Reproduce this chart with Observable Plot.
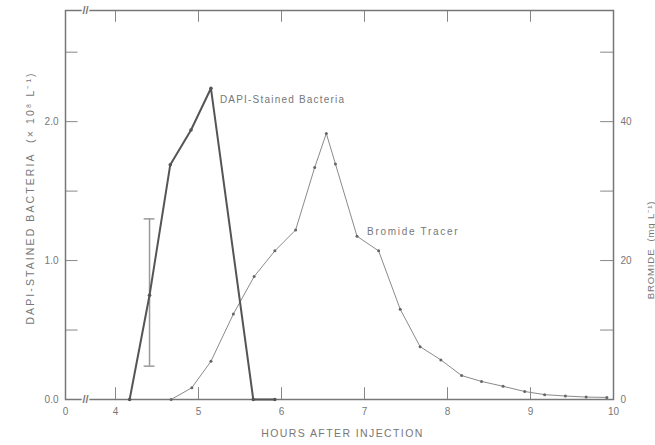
<!DOCTYPE html>
<html>
<head>
<meta charset="utf-8">
<script src="https://cdn.jsdelivr.net/npm/d3@7"></script>
<script src="https://cdn.jsdelivr.net/npm/@observablehq/plot@0.6"></script>
<style>
  html, body { margin: 0; padding: 0; background: #fff; }
  svg { display: block; }
</style>
</head>
<body>
<div id="chart"></div>
<script>
// ---- data ----
const bacteriaHours = [4.17, 4.41, 4.66, 4.91, 5.15, 5.66, 5.92];
const bacteriaConc  = [0, 0.75, 1.69, 1.94, 2.24, 0, 0];          // x 10^8 per L

const bromideHours = [4.67, 4.92, 5.15, 5.42, 5.67, 5.92, 6.17, 6.40, 6.54, 6.65, 6.91, 7.17,
                      7.43, 7.67, 7.92, 8.17, 8.41, 8.67, 8.93, 9.17, 9.42, 9.67, 9.92];
const bromideConc  = [0, 1.7, 5.5, 12.3, 17.7, 21.4, 24.4, 33.4, 38.3, 33.9, 23.5, 21.4,
                      13.0, 7.6, 5.7, 3.45, 2.6, 1.9, 1.15, 0.7, 0.5, 0.35, 0.3];   // mg per L

const errorHour = 4.41, errorLow = 0.24, errorHigh = 1.30;

const xTickLabels = [0, 4, 5, 6, 7, 8, 9, 10];
const xTickMarks  = [4, 5, 6, 7, 8, 9];
const yTickLabels = [0, 1, 2];
const yTickMarks  = [0.5, 1, 1.5, 2, 2.5];
const bromidePerUnit = 20;      // right axis: 1.0 on left = 20 mg/L
const yMax = 2.8;
const axisBreakAt = 1.6;

const xTitle = "HOURS AFTER INJECTION";
const yLeftTitle = "DAPI-STAINED BACTERIA  (× 10⁸ L⁻¹)";
const yRightTitle = "BROMIDE  (mg L⁻¹)";
const bacteriaLabel = "DAPI-Stained Bacteria";
const bromideLabel = "Bromide Tracer";

// ---- build tables ----
const bacteria = bacteriaHours.map((h, i) => ({h, c: bacteriaConc[i]}));
const bromide  = bromideHours.map((h, i) => ({h, c: bromideConc[i]}));
const peak = bacteria[4];
const bromLabelPt = bromide[10];

const ink = "#777";
const tickLenY = 0.085, tickLenL = 1.0, tickLenR = 0.155, capHalf = 0.065;

const chart = Plot.plot({
  width: 655,
  height: 445,
  marginTop: 10,
  marginBottom: 46,
  marginLeft: 65,
  marginRight: 42,
  style: {fontFamily: "Liberation Sans, Arial, sans-serif", fontSize: "10px", color: ink, background: "#fff"},
  x: {type: "linear", domain: [0, 4, 10], range: [65, 115, 613]},
  y: {domain: [0, yMax]},
  marks: [
    // inward ticks
    Plot.ruleX(xTickMarks, {x: d => d, y1: 0, y2: tickLenY, stroke: "#888", strokeWidth: 1}),
    Plot.ruleX(xTickMarks, {x: d => d, y1: yMax - tickLenY, y2: yMax, stroke: "#888", strokeWidth: 1}),
    Plot.ruleY(yTickMarks, {y: d => d, x1: 0, x2: tickLenL, stroke: "#888", strokeWidth: 1}),
    Plot.ruleY(yTickMarks, {y: d => d, x1: 10 - tickLenR, x2: 10, stroke: "#888", strokeWidth: 1}),
    Plot.frame({stroke: "#777", strokeWidth: 1.5}),
    // axis break marks
    Plot.text([0, yMax], {x: () => axisBreakAt, y: d => d, text: () => "//", fontSize: 11, fill: "#777",
      stroke: "#fff", strokeWidth: 3, paintOrder: "stroke", fontWeight: "bold"}),
    // tick labels
    Plot.axisX({ticks: xTickLabels, tickSize: 0, tickPadding: 8, label: null, tickFormat: d => String(d)}),
    Plot.axisY({anchor: "left", ticks: yTickLabels, tickSize: 0, tickPadding: 7, label: null, tickFormat: d => d.toFixed(1)}),
    Plot.axisY({anchor: "right", ticks: yTickLabels, tickSize: 0, tickPadding: 7, label: null, tickFormat: d => String(d * bromidePerUnit)}),
    // axis titles
    Plot.text([xTitle], {frameAnchor: "bottom", textAnchor: "middle", dx: 3, dy: 37, text: d => d, fontSize: 10.5}),
    Plot.text([yLeftTitle], {frameAnchor: "left", textAnchor: "middle", dx: -35, dy: -7, rotate: -90, text: d => d, fontSize: 10.5}),
    Plot.text([yRightTitle], {frameAnchor: "right", textAnchor: "middle", dx: 37, dy: 45, rotate: -90, text: d => d, fontSize: 9.5}),
    // error bar
    Plot.ruleX([errorHour], {x: d => d, y1: () => errorLow, y2: () => errorHigh, stroke: "#999", strokeWidth: 1.5}),
    Plot.ruleY([errorLow, errorHigh], {y: d => d, x1: () => errorHour - capHalf, x2: () => errorHour + capHalf, stroke: "#999", strokeWidth: 1.5}),
    // bromide tracer
    Plot.line(bromide, {x: "h", y: d => d.c / bromidePerUnit, stroke: "#8a8a8a", strokeWidth: 1}),
    Plot.dot(bromide, {x: "h", y: d => d.c / bromidePerUnit, r: 1.5, fill: "#666"}),
    // bacteria
    Plot.line(bacteria, {x: "h", y: "c", stroke: "#555", strokeWidth: 2}),
    Plot.dot(bacteria, {x: "h", y: "c", r: 1.8, fill: "#555"}),
    // annotations
    Plot.text([peak], {x: "h", y: "c", text: () => bacteriaLabel, textAnchor: "start", dx: 9, dy: 11, fontSize: 10}),
    Plot.text([bromLabelPt], {x: "h", y: d => d.c / bromidePerUnit, text: () => bromideLabel, textAnchor: "start", dx: 10, dy: -4, fontSize: 10})
  ]
});

// letter spacing (Plot's text mark has no option for it)
const spacing = new Map([
  [xTitle, "1.4px"],
  [yLeftTitle, "2.1px"],
  [yRightTitle, "0.9px"],
  [bacteriaLabel, "1.2px"],
  [bromideLabel, "1.7px"]
]);
d3.select(chart).selectAll("text").each(function() {
  const s = spacing.get(this.textContent);
  if (s) this.setAttribute("letter-spacing", s);
});
document.getElementById("chart").appendChild(chart);
</script>
</body>
</html>
